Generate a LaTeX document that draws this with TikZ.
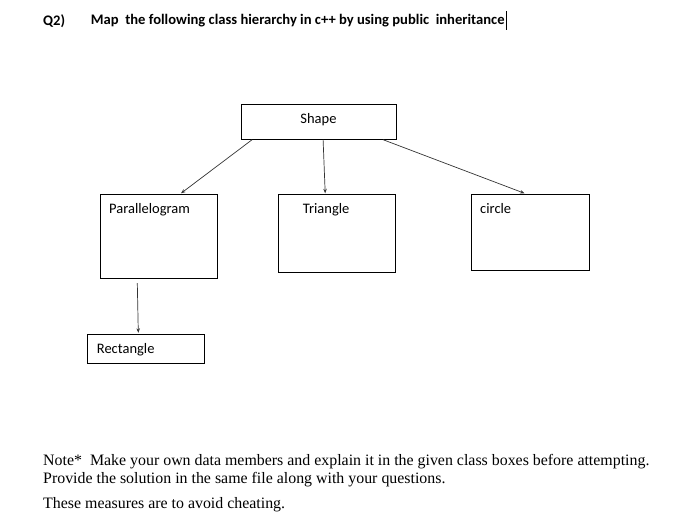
\documentclass[tikz,border=0pt]{standalone}
\usepackage{fontspec}
\setmainfont{Liberation Serif}
\newfontfamily\calibri{Carlito}
\usepackage{tikz}
\usetikzlibrary{arrows.meta}
\usetikzlibrary{positioning}
\usetikzlibrary{calc}
\tikzstyle{arrow} = [line width=0.7pt, black!80, -{Stealth[length=4.5pt,width=3.5pt]}]
\tikzstyle{classbox} = [draw, line width=0.8pt, inner sep=0pt]
\tikzstyle{classname} = [font=\calibri\fontsize{14.5}{16}\selectfont, inner sep=0pt]

\begin{document}
\begin{tikzpicture}[x=1pt, y=-1pt]
            \useasboundingbox (0,0) rectangle (699,530);
            % question line
            \node[anchor=west, inner sep=0pt, font=\calibri\bfseries\fontsize{14.6}{16}\selectfont] (qnum) at (43,21) {Q2)};
            \node[anchor=west, inner sep=0pt, font=\calibri\bfseries\fontsize{14.6}{16}\selectfont] (title) at (90.7,21) {Map\ \ the following class hierarchy in c++ by using public\ \ inheritance};
            \draw[line width=0.8pt] ([xshift=1.5pt]title.east) ++(0,-10) -- ++(0,19);
            
            % class boxes
            \node[classbox, minimum width=155, minimum height=35] (shape) at (318.5,121.8) {};
            \node[classname] (shapename) at (318.5,119.5) {Shape};
            \node[classbox, minimum width=117, minimum height=84, anchor=north west] (para) at (100,194.3) {};
            \node[classname, anchor=west] at (109,209.5) {Parallelogram};
            \node[classbox, minimum width=117, minimum height=78, anchor=north west] (tri) at (277.7,194.3) {};
            \node[classname, anchor=west] at (302.7,209.5) {Triangle};
            \node[classbox, minimum width=118, minimum height=76, anchor=north west] (circ) at (471,194.3) {};
            \node[classname, anchor=west] at (480,209) {circle};
            \node[classbox, minimum width=117, minimum height=28.5, anchor=north west] (rect) at (87.3,334.3) {};
            \node[classname, anchor=west] at (96.7,349.5) {Rectangle};
            
            % inheritance arrows
            \draw[arrow] ([xshift=11.5pt]shape.south west) -- ([xshift=81pt,yshift=1pt]para.north west);
            \draw[arrow] ([xshift=82.5pt]shape.south west) -- ([xshift=47.5pt,yshift=1pt]tri.north west);
            \draw[arrow] ([xshift=142.5pt]shape.south west) -- ([xshift=53.5pt,yshift=1pt]circ.north west);
            \draw[arrow] ([xshift=37.3pt,yshift=-4pt]para.south west) -- ([xshift=51pt,yshift=1.5pt]rect.north west);
            
            % note
            \node[anchor=west, inner sep=0pt, font=\fontsize{15.9}{18}\selectfont] (note1) at (43,461.5) {Note*\ \ Make your own data members and explain it in the given class boxes before attempting.};
            \node[anchor=west, inner sep=0pt, font=\fontsize{15.9}{18}\selectfont] (note2) at (43,479.5) {Provide the solution in the same file along with your questions.};
            \node[anchor=west, inner sep=0pt, font=\fontsize{15.9}{18}\selectfont] (note3) at (43,504.5) {These measures are to avoid cheating.};
        \end{tikzpicture}
\end{document}
